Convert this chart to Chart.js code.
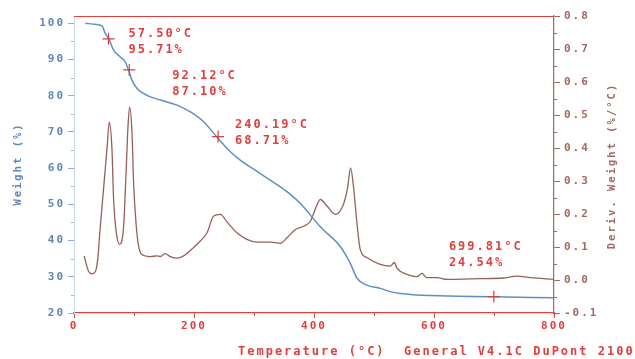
<!DOCTYPE html>
<html>
<head>
<meta charset="utf-8">
<script src="https://cdn.jsdelivr.net/npm/chart.js@4.4.0/dist/chart.umd.min.js"></script>
<style>
html,body{margin:0;padding:0;background:#fff;}
#wrap{width:635px;height:359px;position:relative;}
</style>
</head>
<body>
<div id="wrap"><canvas id="c" width="635" height="359"></canvas></div>
<script>
// Weight (%) curve
const weightTemp = [19, 35.5, 46.6, 52, 57.7, 66, 77, 85.5, 91, 96.7, 105, 121.7, 144, 171.7, 194, 216, 238, 260.5, 277, 310.5, 355, 377, 410.5, 444, 460.5, 471.7, 488, 510.5, 527, 543.8, 594, 699, 799];
const weightVal  = [100, 99.7, 99.3, 97.2, 95.8, 92.6, 90.7, 89.3, 87, 84.3, 82, 80.1, 78.8, 77.4, 75.5, 72.8, 68.6, 64.5, 62.2, 58.5, 53.5, 50.3, 43.8, 38.3, 33.7, 29.6, 27.7, 26.8, 25.9, 25.4, 24.8, 24.5, 24.2];
// Derivative weight (%/°C) curve
const derivTemp = [17, 24, 30, 35.5, 40, 43, 49.3, 55, 58.8, 63.3, 66, 70.5, 76, 82.7, 87.2, 90, 92.7, 96.7, 99.3, 103.8, 107.7, 113.3, 127, 138, 144, 152, 160.5, 171.7, 182.7, 199, 210.5, 221.7, 232.7, 244, 255, 271.7, 288, 305, 327, 344, 355, 369, 382.7, 394, 402, 410.5, 421.7, 435.5, 449, 456, 461, 466, 471.7, 477, 488, 510.5, 527, 534, 538, 555, 571.7, 580, 588, 605, 622, 677, 716, 738, 760.5, 799];
const derivVal  = [0.073, 0.027, 0.019, 0.025, 0.07, 0.143, 0.277, 0.398, 0.478, 0.395, 0.244, 0.144, 0.108, 0.163, 0.345, 0.466, 0.524, 0.446, 0.295, 0.163, 0.103, 0.077, 0.071, 0.073, 0.071, 0.080, 0.071, 0.066, 0.073, 0.098, 0.118, 0.143, 0.194, 0.199, 0.176, 0.143, 0.123, 0.115, 0.115, 0.111, 0.128, 0.153, 0.163, 0.178, 0.214, 0.244, 0.224, 0.199, 0.229, 0.28, 0.340, 0.28, 0.17, 0.093, 0.068, 0.047, 0.042, 0.053, 0.037, 0.017, 0.010, 0.020, 0.007, 0.007, 0.002, 0.004, 0.006, 0.012, 0.007, 0.002];
// Annotated points
const markTemp   = [57.50, 92.12, 240.19, 699.81];
const markWeight = [95.71, 87.10, 68.71, 24.54];
const markTempLabels   = ['57.50°C', '92.12°C', '240.19°C', '699.81°C'];
const markWeightLabels = ['95.71%', '87.10%', '68.71%', '24.54%'];
// Axis ticks
const xTicks  = [0, 200, 400, 600, 800];
const yTicks  = [20, 30, 40, 50, 60, 70, 80, 90, 100];
const y2Ticks = [-0.1, 0, 0.1, 0.2, 0.3, 0.4, 0.5, 0.6, 0.7, 0.8];

const RED = '#e0403e', BLUE = '#5c8fc8', BROWN = '#96605a', BLUELBL = '#5f86b8', BROWNLBL = '#a06a62';
const FONT = '"DejaVu Sans Mono", "Liberation Mono", monospace';

// label offsets (dx, dy of first line from marker, in px)
const labelOffsets = [[20, -5], [43, 6], [17, -12], [-45, -50]];

const deco = {
  id: 'deco',
  beforeDraw(chart) {
    chart.ctx.letterSpacing = '2px';
  },
  afterDraw(chart) {
    const ctx = chart.ctx;
    const a = chart.chartArea;
    const xs = chart.scales.x, ys = chart.scales.y, y2 = chart.scales.y2;
    ctx.save();
    ctx.letterSpacing = '2px';
    // top frame line
    ctx.strokeStyle = RED; ctx.lineWidth = 1.2;
    ctx.beginPath(); ctx.moveTo(a.left, a.top + 0.5); ctx.lineTo(a.right, a.top + 0.5); ctx.stroke();
    // minor ticks
    ctx.lineWidth = 1;
    ctx.strokeStyle = '#9fb8d6';
    for (let v = 25; v < 100; v += 10) {
      const p = Math.round(ys.getPixelForValue(v)) + 0.5;
      ctx.beginPath(); ctx.moveTo(a.left - 3, p); ctx.lineTo(a.left, p); ctx.stroke();
    }
    ctx.strokeStyle = BROWNLBL;
    for (let v = -0.05; v < 0.8; v += 0.1) {
      const p = Math.round(y2.getPixelForValue(v)) + 0.5;
      ctx.beginPath(); ctx.moveTo(a.right, p); ctx.lineTo(a.right + 3, p); ctx.stroke();
    }
    ctx.strokeStyle = RED;
    for (let v = 100; v < 800; v += 200) {
      const p = Math.round(xs.getPixelForValue(v)) + 0.5;
      ctx.beginPath(); ctx.moveTo(p, a.bottom); ctx.lineTo(p, a.bottom + 3); ctx.stroke();
    }
    // annotation text
    ctx.fillStyle = RED;
    ctx.font = 'bold 12px ' + FONT;
    ctx.textAlign = 'left'; ctx.textBaseline = 'middle';
    for (let i = 0; i < markTemp.length; i++) {
      const px = xs.getPixelForValue(markTemp[i]);
      const py = ys.getPixelForValue(markWeight[i]);
      const [dx, dy] = labelOffsets[i];
      ctx.fillText(markTempLabels[i], px + dx, py + dy);
      ctx.fillText(markWeightLabels[i], px + dx, py + dy + 16);
    }
    // bottom title
    ctx.font = 'bold 12px ' + FONT;
    ctx.fillText('Temperature (°C)  General V4.1C DuPont 2100', 238, 352);
    // left title
    ctx.font = 'bold 10.5px ' + FONT;
    ctx.fillStyle = BLUELBL; ctx.textAlign = 'center';
    ctx.save(); ctx.translate(18, 164); ctx.rotate(-Math.PI / 2);
    ctx.fillText('Weight (%)', 0, 0); ctx.restore();
    // right title
    ctx.fillStyle = BROWNLBL;
    ctx.save(); ctx.translate(612, 166); ctx.rotate(-Math.PI / 2);
    ctx.fillText('Deriv. Weight (%/°C)', 0, 0); ctx.restore();
    ctx.restore();
  }
};

const tickFont = {family: FONT, size: 11, weight: 'bold'};

new Chart(document.getElementById('c'), {
  type: 'line',
  data: {
    datasets: [
      {
        label: 'Weight',
        data: weightTemp.map((t, i) => ({x: t, y: weightVal[i]})),
        yAxisID: 'y', borderColor: BLUE, borderWidth: 1.5, pointRadius: 0,
        cubicInterpolationMode: 'monotone', order: 2
      },
      {
        label: 'Deriv. Weight',
        data: derivTemp.map((t, i) => ({x: t, y: derivVal[i]})),
        yAxisID: 'y2', borderColor: BROWN, borderWidth: 1.3, pointRadius: 0,
        cubicInterpolationMode: 'monotone', order: 3
      },
      {
        type: 'scatter',
        label: 'Marks',
        data: markTemp.map((t, i) => ({x: t, y: markWeight[i]})),
        yAxisID: 'y', pointStyle: 'cross', pointRadius: 6, borderColor: '#c84444',
        borderWidth: 1.2, showLine: false, order: 1
      }
    ]
  },
  options: {
    responsive: false,
    animation: false,
    layout: {padding: {top: 16, left: 0, right: 0, bottom: 0}},
    plugins: {legend: {display: false}, tooltip: {enabled: false}},
    scales: {
      x: {
        type: 'linear', min: 0, max: 800,
        afterBuildTicks: s => { s.ticks = xTicks.map(v => ({value: v})); },
        afterFit: s => { s.height = 46; },
        grid: {drawOnChartArea: false, tickLength: 5, color: RED, lineWidth: 1},
        border: {color: RED, width: 1.2},
        ticks: {color: RED, font: tickFont, padding: 2, maxRotation: 0}
      },
      y: {
        type: 'linear', position: 'left', min: 20, max: 102,
        afterBuildTicks: s => { s.ticks = yTicks.map(v => ({value: v})); },
        afterFit: s => { s.width = 74; },
        grid: {drawOnChartArea: false, tickLength: 6, color: '#8fb0d6'},
        border: {color: '#c9d9ec', width: 1},
        ticks: {color: BLUELBL, font: tickFont, padding: 3}
      },
      y2: {
        type: 'linear', position: 'right', min: -0.1, max: 0.8,
        afterBuildTicks: s => { s.ticks = y2Ticks.map(v => ({value: v})); },
        afterFit: s => { s.width = 81; },
        grid: {drawOnChartArea: false, tickLength: 6, color: BROWNLBL},
        border: {color: BROWNLBL, width: 1.2},
        ticks: {color: BROWNLBL, font: tickFont, padding: 4,
          callback: v => (Math.abs(v) < 1e-9 ? 0 : v).toFixed(1)}
      }
    }
  },
  plugins: [deco]
});
</script>
</body>
</html>
